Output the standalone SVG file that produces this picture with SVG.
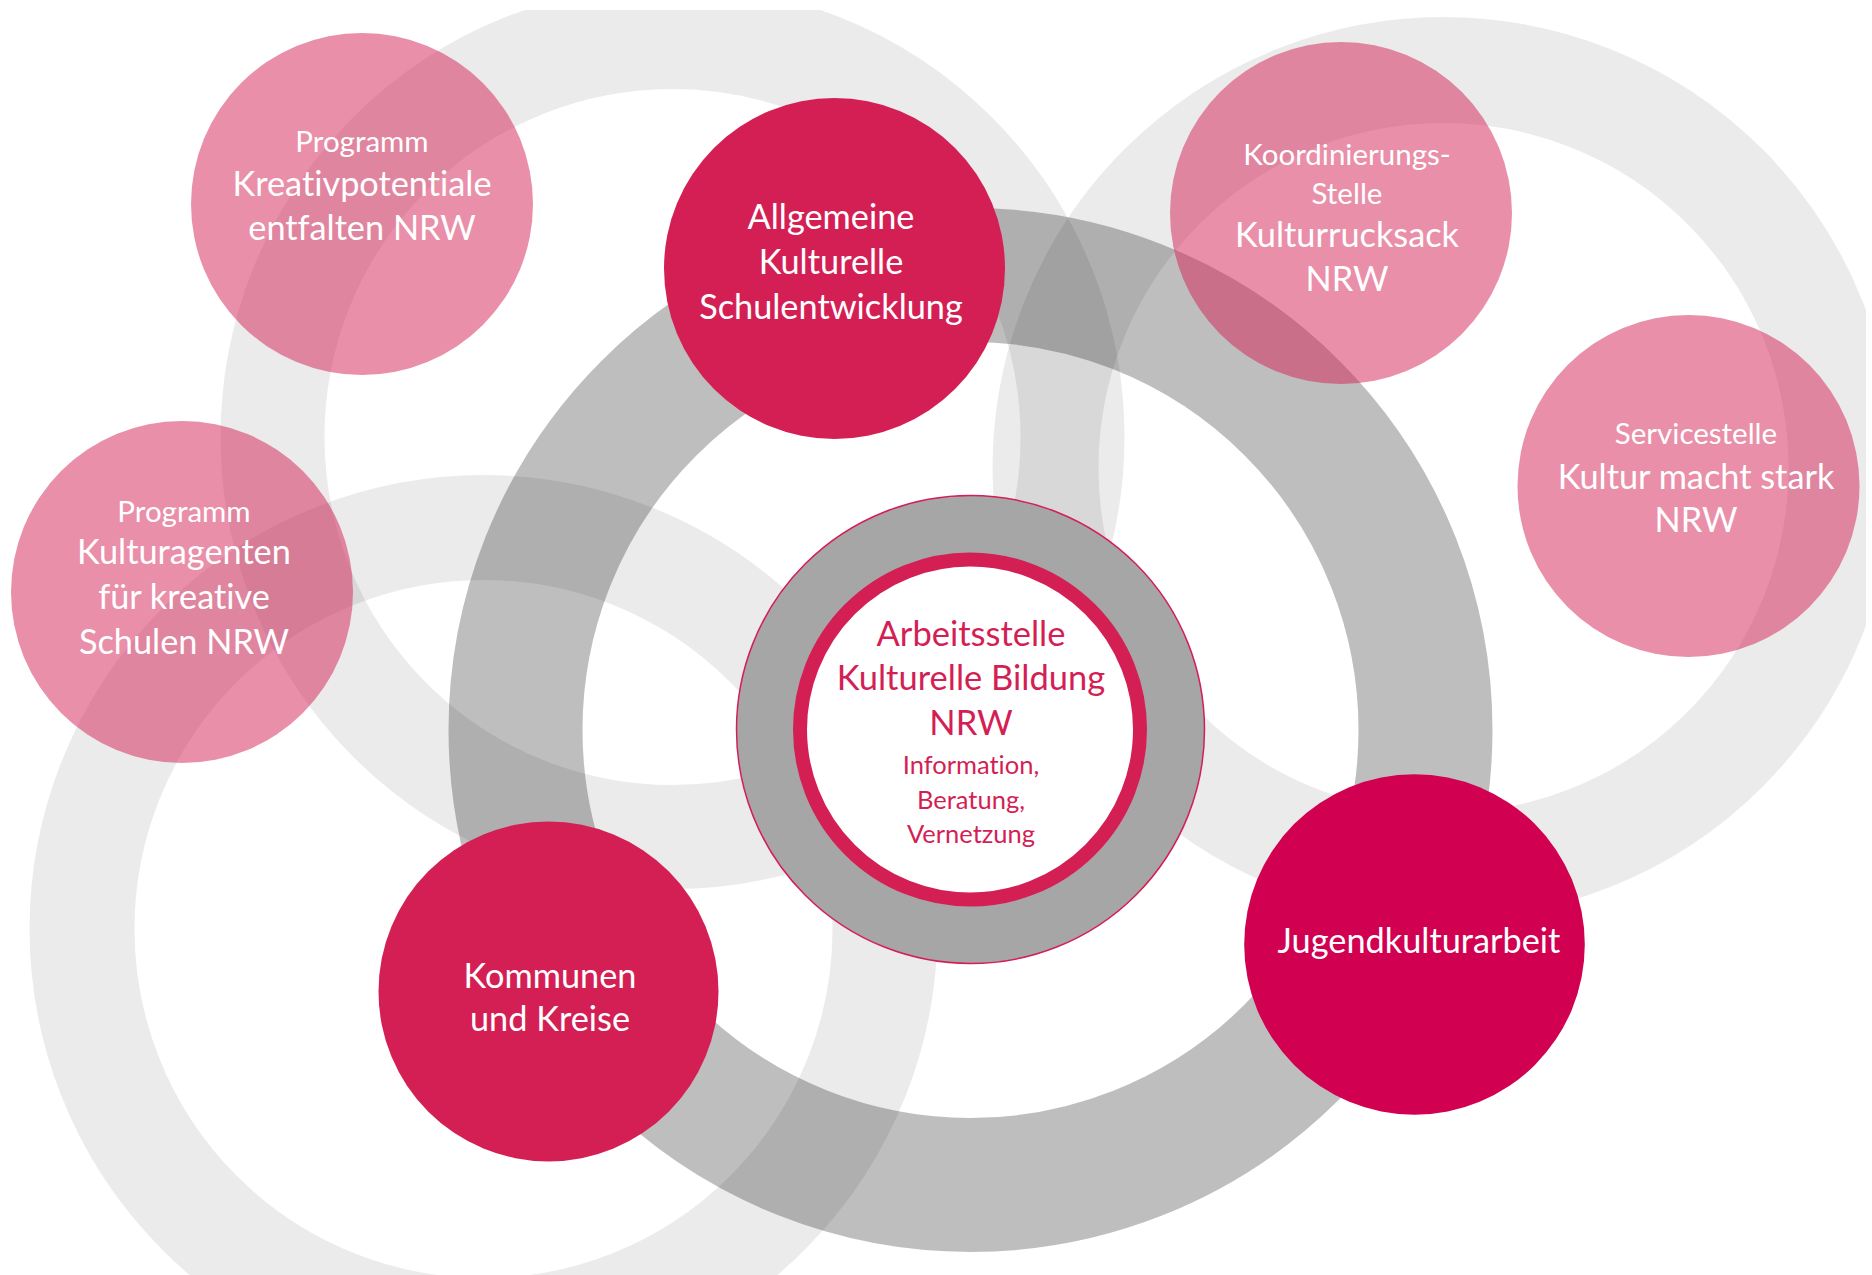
<svg xmlns="http://www.w3.org/2000/svg" width="1872" height="1275" viewBox="0 0 1872 1275">
<style>
.ring{fill:none;stroke:#000;stroke-opacity:0.08}
.ringd{fill:none;stroke:#000;stroke-opacity:0.255}
.soft{fill:#d41f55;fill-opacity:0.5}
.solid{fill:#d41f55}
text{font-family:Lato,"Open Sans","Liberation Sans",sans-serif;text-anchor:middle;font-variant-ligatures:none;font-feature-settings:"liga" 0,"clig" 0}
.t{fill:#fff}
.big{font-size:34.3px}
.sm{font-size:29.5px}
.ct{fill:#d41f55}
</style>
<rect width="1872" height="1275" fill="#fff"/>
<g id="connectors">
<circle class="ring" cx="672.5" cy="437" r="400" stroke-width="104"/>
<circle class="ring" cx="1443.5" cy="468" r="398" stroke-width="106"/>
<circle class="ring" cx="483.5" cy="929" r="401.5" stroke-width="105"/>
<circle class="ringd" cx="970.5" cy="730" r="455" stroke-width="134"/>
</g>
<rect x="0" y="0" width="1872" height="10" fill="#fff"/>
<rect x="1866" y="0" width="6" height="1275" fill="#fff"/>
<g id="center">
<circle cx="970.5" cy="729.5" r="234" fill="#a6a6a6" stroke="#d41f55" stroke-width="1.5"/>
<circle cx="970" cy="729.5" r="170" fill="#fff" stroke="#d41f55" stroke-width="14"/>
<text class="ct" x="971" y="646" font-size="34.5">Arbeitsstelle</text>
<text class="ct" x="971" y="690" font-size="34.5">Kulturelle Bildung</text>
<text class="ct" x="971" y="735" font-size="34.5">NRW</text>
<text class="ct" x="971" y="774" font-size="25.5">Information,</text>
<text class="ct" x="971" y="809" font-size="25.5">Beratung,</text>
<text class="ct" x="971" y="843" font-size="25.5">Vernetzung</text>
</g>
<g id="kreativ">
<circle class="soft" cx="362" cy="204" r="171"/>
<text class="t sm" x="362" y="152">Programm</text>
<text class="t big" x="362" y="196">Kreativpotentiale</text>
<text class="t big" x="362" y="240">entfalten NRW</text>
</g>
<g id="kulturrucksack">
<circle class="soft" cx="1341" cy="213" r="171"/>
<text class="t sm" x="1347" y="165">Koordinierungs-</text>
<text class="t sm" x="1347" y="204">Stelle</text>
<text class="t big" x="1347" y="247">Kulturrucksack</text>
<text class="t big" x="1347" y="291">NRW</text>
</g>
<g id="kulturagenten">
<circle class="soft" cx="182" cy="592" r="171"/>
<text class="t sm" x="184" y="522">Programm</text>
<text class="t big" x="184" y="564">Kulturagenten</text>
<text class="t big" x="184" y="609">für kreative</text>
<text class="t big" x="184" y="654">Schulen NRW</text>
</g>
<g id="servicestelle">
<circle class="soft" cx="1688.5" cy="486" r="171"/>
<text class="t sm" x="1696" y="444">Servicestelle</text>
<text class="t big" x="1696" y="489">Kultur macht stark</text>
<text class="t big" x="1696" y="532">NRW</text>
</g>
<g id="schulentwicklung">
<circle class="solid" cx="834.5" cy="268.5" r="170.5"/>
<text class="t big" x="831" y="229">Allgemeine</text>
<text class="t big" x="831" y="274">Kulturelle</text>
<text class="t big" x="831" y="319">Schulentwicklung</text>
</g>
<g id="kommunen">
<circle class="solid" cx="548.5" cy="991.5" r="170"/>
<text class="t big" x="550" y="988">Kommunen</text>
<text class="t big" x="550" y="1031">und Kreise</text>
</g>
<g id="jugendkulturarbeit">
<circle cx="1414.5" cy="944.5" r="170.3" fill="#d10050"/>
<text class="t big" x="1419" y="953">Jugendkulturarbeit</text>
</g>
</svg>
